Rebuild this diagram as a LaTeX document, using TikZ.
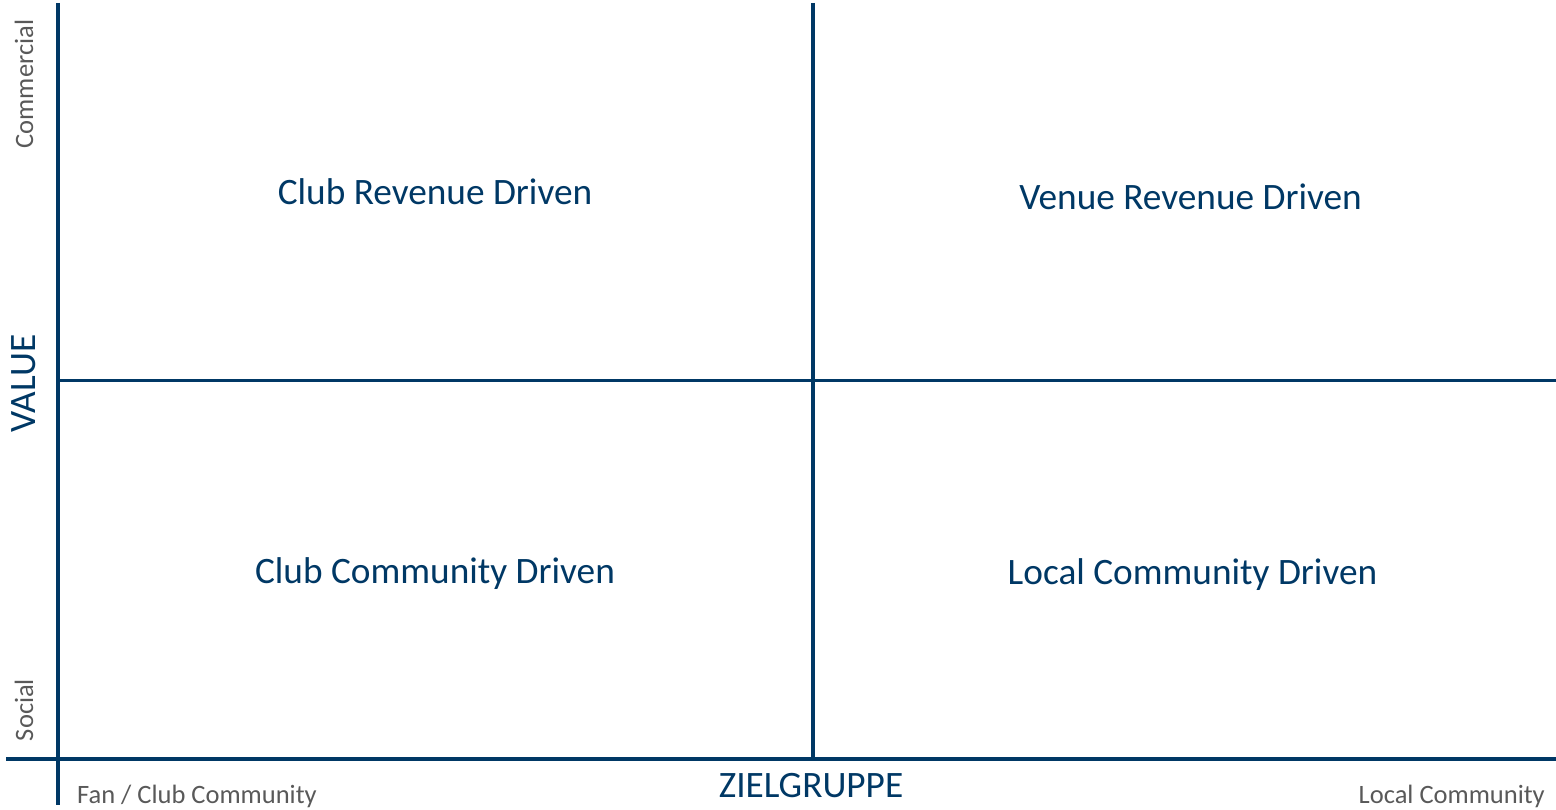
\documentclass[tikz,border=0pt]{standalone}
\usepackage{fontspec}
\setmainfont{Carlito}
\definecolor{axisblue}{RGB}{0,56,101}
\definecolor{labelgray}{RGB}{89,89,89}
\tikzset{
  axisline/.style={draw=axisblue, line width=3.6pt},
  quadlabel/.style={text=axisblue, font=\fontsize{37.3}{40}\selectfont, inner sep=0pt, anchor=base},
  axistitle/.style={text=axisblue, font=\fontsize{37.3}{40}\selectfont, inner sep=0pt, anchor=base},
  polelabel/.style={text=labelgray, font=\fontsize{26.5}{30}\selectfont, inner sep=0pt}
}
\begin{document}
\begin{tikzpicture}[x=1pt, y=-1pt]
\useasboundingbox (0,0) rectangle (1556,810);
% axis endpoints
\coordinate (vtop) at (58,3);
\coordinate (vbot) at (58,805);
\coordinate (hleft) at (6,759);
\coordinate (hright) at (1556,759);
\coordinate (mtop) at (813,3);
\coordinate (mbot) at (813,759);
\coordinate (mleft) at (58,380.5);
\coordinate (mright) at (1556,380.5);
\draw[axisline] (vtop) -- (vbot);
\draw[axisline] (hleft) -- (hright);
\draw[axisline] (mtop) -- (mbot);
\draw[axisline] (mleft) -- (mright);
% quadrant labels
\node[quadlabel] (q1) at (435,205) {Club Revenue Driven};
\node[quadlabel] (q2) at (1190.5,210) {Venue Revenue Driven};
\node[quadlabel] (q3) at (435,583) {Club Community Driven};
\node[quadlabel] (q4) at (1192.5,584) {Local Community Driven};
% axis titles
\node[axistitle] (xt) at (811,797) {ZIELGRUPPE};
\node[axistitle, rotate=90] (yt) at (35,383.5) {VALUE};
% pole labels
\node[polelabel, anchor=base west] (xl) at (77,803) {Fan / Club Community};
\node[polelabel, anchor=base east] (xr) at (1545,803) {Local Community};
\node[polelabel, anchor=base, rotate=90] (yh) at (33,84) {Commercial};
\node[polelabel, anchor=base, rotate=90] (yl) at (33,710) {Social};
\end{tikzpicture}
\end{document}
